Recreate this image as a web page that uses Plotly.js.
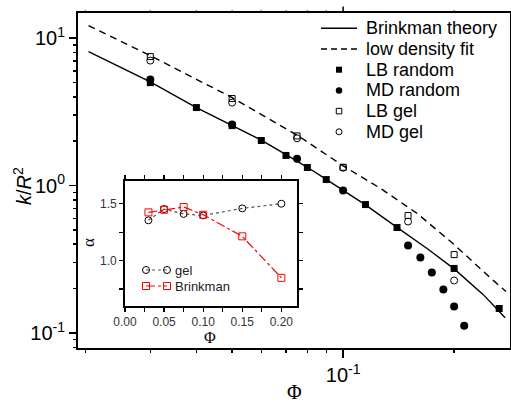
<!DOCTYPE html>
<html><head><meta charset="utf-8">
<script src="https://cdn.plot.ly/plotly-3.0.1.min.js"></script>
<style>html,body{margin:0;padding:0;background:#fff}#chart{width:511px;height:405px}</style>
</head><body><div id="chart"></div>
<script>
// ---- data ----
const brinkPhi = [0.0204, 0.03, 0.04, 0.05, 0.06, 0.07, 0.08, 0.09, 0.1, 0.115, 0.14, 0.17, 0.2, 0.24, 0.275];
const brinkK   = [8.10, 5.05, 3.38, 2.57, 2.03, 1.62, 1.33, 1.10, 0.93, 0.74, 0.52, 0.37, 0.272, 0.182, 0.127];
const lowPhi = [0.0204, 0.03, 0.05, 0.075, 0.1, 0.126, 0.159, 0.19, 0.2, 0.25, 0.2765];
const lowK   = [12.15, 7.6, 3.95, 2.2, 1.36, 0.96, 0.645, 0.44, 0.398, 0.238, 0.191];
const lbRandPhi = [0.03, 0.04, 0.05, 0.06, 0.07, 0.08, 0.09, 0.115, 0.14, 0.2, 0.265];
const lbRandK   = [4.99, 3.38, 2.55, 2.02, 1.60, 1.325, 1.098, 0.743, 0.519, 0.274, 0.1466];
const mdRandPhi = [0.03, 0.05, 0.075, 0.1, 0.15, 0.162, 0.174, 0.187, 0.2, 0.213];
const mdRandK   = [5.23, 2.59, 1.52, 0.925, 0.392, 0.325, 0.257, 0.197, 0.151, 0.112];
const gelPhi = [0.03, 0.05, 0.075, 0.1, 0.15, 0.2];
const lbGelK = [7.49, 3.89, 2.17, 1.33, 0.626, 0.340];
const mdGelK = [7.04, 3.65, 2.09, 1.32, 0.570, 0.227];
// inset
const alphaPhi   = [0.03, 0.05, 0.075, 0.1, 0.15, 0.2];
const gelAlpha   = [1.354, 1.453, 1.41, 1.397, 1.459, 1.50];
const brinkAlpha = [1.424, 1.447, 1.471, 1.403, 1.213, 0.848];
// ticks / labels
const xMajor = [0.1], xMajorText = ['10<sup>-1</sup>'];
const xMinor = [0.02,0.03,0.04,0.05,0.06,0.07,0.08,0.09,0.2];
const yMajor = [0.1, 1, 10], yMajorText = ['10<sup>-1</sup>','10<sup>0</sup>','10<sup>1</sup>'];
const yMinor = [0.08,0.09,0.2,0.3,0.4,0.5,0.6,0.7,0.8,0.9,2,3,4,5,6,7,8,9];
const legendLabels = ['Brinkman theory','low density fit','LB random','MD random','LB gel','MD gel'];
const insetLabels = ['gel','Brinkman'];

// ---- layout geometry (pixels) ----
const L=78, R=510, T=13, B=348;
const px = x => (x-L)/(R-L);
const py = y => (B-y)/(B-T);
const SANS = 'Liberation Sans, Arial, sans-serif';
const SERIF = 'Liberation Serif, Times New Roman, serif';
const XR = [Math.log10(0.0191), Math.log10(0.2835)];
const YR = [Math.log10(0.0791), Math.log10(14.8)];

const traces = [];
traces.push({x:brinkPhi, y:brinkK, mode:'lines', line:{color:'#000', width:1.4}, showlegend:false});
traces.push({x:lowPhi, y:lowK, mode:'lines', line:{color:'#000', width:1.4, dash:'7px,5px'}, showlegend:false});
const mk = [
  {symbol:'square', size:7, color:'#000'},
  {symbol:'circle', size:8, color:'#000'},
  {symbol:'square-open', size:6, color:'#000', line:{width:1, color:'#000'}},
  {symbol:'circle-open', size:7, color:'#000', line:{width:1, color:'#000'}}
];
traces.push({x:lbRandPhi, y:lbRandK, mode:'markers', marker:mk[0], showlegend:false});
traces.push({x:mdRandPhi, y:mdRandK, mode:'markers', marker:mk[1], showlegend:false});
traces.push({x:gelPhi, y:lbGelK, mode:'markers', marker:mk[2], showlegend:false});
traces.push({x:gelPhi, y:mdGelK, mode:'markers', marker:mk[3], showlegend:false});

// inset traces
traces.push({x:alphaPhi, y:gelAlpha, xaxis:'x2', yaxis:'y2', mode:'lines+markers',
  line:{color:'#555', width:1.2, dash:'dot'}, marker:{symbol:'circle-open', size:7, color:'#000', line:{width:1}}, showlegend:false});
traces.push({x:alphaPhi, y:brinkAlpha, xaxis:'x2', yaxis:'y2', mode:'lines+markers',
  line:{color:'#ff0000', width:1.2, dash:'dashdot'}, marker:{symbol:'square-open', size:7, color:'#ff0000', line:{width:1}}, showlegend:false});

// ---- hand-made legends (on an invisible overlay subplot) ----
const annotations = [];
const rowY = i => 28.3 + 20.7*i;
const lineStyles = [{color:'#000', width:1.4}, {color:'#000', width:1.4, dash:'6px,4px'}];
for (let i=0;i<2;i++){
  traces.push({x:[px(321),px(357)], y:[py(rowY(i)),py(rowY(i))], xaxis:'x3', yaxis:'y3', mode:'lines', line:lineStyles[i], showlegend:false, cliponaxis:false});
}
const legMk = [
  {symbol:'square', size:6, color:'#000'},
  {symbol:'circle', size:6.5, color:'#000'},
  {symbol:'square-open', size:5.5, color:'#000', line:{width:1}},
  {symbol:'circle-open', size:6, color:'#000', line:{width:1}}
];
for (let i=2;i<6;i++){
  traces.push({x:[px(339)], y:[py(rowY(i))], xaxis:'x3', yaxis:'y3', mode:'markers', marker:legMk[i-2], showlegend:false, cliponaxis:false});
}
legendLabels.forEach((t,i)=>annotations.push({text:t, xref:'paper', yref:'paper', x:px(364), y:py(rowY(i)), xanchor:'left', yanchor:'middle', showarrow:false, font:{family:SANS, size:18, color:'#000'}}));

const inRowY = i => 270 + 16*i;
traces.push({x:[px(146),px(167)], y:[py(inRowY(0)),py(inRowY(0))], xaxis:'x3', yaxis:'y3', mode:'lines+markers',
  line:{color:'#555', width:1.2, dash:'dot'}, marker:{symbol:'circle-open', size:7, color:'#000', line:{width:1}}, showlegend:false, cliponaxis:false});
traces.push({x:[px(146),px(167)], y:[py(inRowY(1)),py(inRowY(1))], xaxis:'x3', yaxis:'y3', mode:'lines+markers',
  line:{color:'#ff0000', width:1.2, dash:'dashdot'}, marker:{symbol:'square-open', size:7, color:'#ff0000', line:{width:1}}, showlegend:false, cliponaxis:false});
insetLabels.forEach((t,i)=>annotations.push({text:t, xref:'paper', yref:'paper', x:px(173), y:py(inRowY(i)), xanchor:'left', yanchor:'middle', showarrow:false, font:{family:SANS, size:13, color:'#222'}}));

// axis titles
const ttl = (text, x, y, size, fam, ang) => annotations.push({text:text, xref:'paper', yref:'paper', x:px(x), y:py(y), xanchor:'center', yanchor:'middle', textangle:ang||0, showarrow:false, font:{family:fam, size:size, color:'#000'}});
ttl('<i>k</i>/<i>R</i><sup>2</sup>', 22, 186, 20, SANS, -90);
ttl('Φ', 294, 392, 20, SERIF);
ttl('α', 88, 243, 17, SERIF, -90);
ttl('Φ', 210, 337, 16, SERIF);

// top-edge tick marks of the main plot, placed at the tick values via the x-axis log range
const xFrac = v => (Math.log10(v) - XR[0]) / (XR[1] - XR[0]);
const topTicks = (vals, len) => {
  traces.push({x:vals.map(xFrac), y:vals.map(()=>py(T - len/2)), xaxis:'x3', yaxis:'y3',
    mode:'markers', marker:{symbol:'line-ns', size:len, line:{color:'#000', width:1.5}}, showlegend:false, cliponaxis:false, hoverinfo:'skip'});
  vals.forEach(v => annotations.push({text:'', xref:'paper', yref:'paper', x:xFrac(v), y:1, ax:0, ay:-len,
    showarrow:true, arrowhead:0, arrowwidth:1.5, arrowcolor:'#000', standoff:0, startstandoff:0}));
};
topTicks(xMinor, 4);
topTicks(xMajor, 8);

const axCommon = {showgrid:false, zeroline:false, showline:true, linecolor:'#000', linewidth:2, ticks:'outside', tickcolor:'#000', mirror:'ticks'};
const layout = {
  width:511, height:405,
  margin:{l:L, r:511-R, t:T, b:405-B},
  paper_bgcolor:'#fff', plot_bgcolor:'rgba(0,0,0,0)',
  showlegend:false,
  xaxis: Object.assign({}, axCommon, {type:'log', range:XR, mirror:true,
    tickmode:'array', tickvals:xMajor, ticktext:xMajorText, ticklen:8, tickwidth:1.5,
    tickfont:{family:SANS, size:20, color:'#000'}}),
  yaxis: Object.assign({}, axCommon, {type:'log', range:YR, mirror:true,
    tickmode:'array', tickvals:yMajor, ticktext:yMajorText, ticklen:7, tickwidth:1.5,
    tickfont:{family:SANS, size:20, color:'#000'}}),
  xaxis4: {overlaying:'x', anchor:'y', side:'bottom', type:'log', range:XR, showgrid:false, zeroline:false, showline:false,
    tickmode:'array', tickvals:xMinor, showticklabels:false, ticks:'outside', ticklen:4, tickwidth:1.5, tickcolor:'#000'},
  yaxis4: {overlaying:'y', anchor:'x', side:'left', type:'log', range:YR, showgrid:false, zeroline:false, showline:false,
    tickmode:'array', tickvals:yMinor, showticklabels:false, ticks:'outside', ticklen:4, tickwidth:1.5, tickcolor:'#000'},
  xaxis2: Object.assign({}, axCommon, {domain:[px(125), px(297)], anchor:'y2', range:[0, 0.22],
    tickmode:'linear', tick0:0, dtick:0.05, tickformat:'.2f', ticklen:4, tickwidth:1.2, linewidth:1.8,
    tickfont:{family:SANS, size:12, color:'#333'},
    minor:{dtick:0.025, ticks:'outside', ticklen:4, tickwidth:1.2, tickcolor:'#000'}}),
  yaxis2: Object.assign({}, axCommon, {domain:[py(306), py(181)], anchor:'x2', range:[0.6, 1.7],
    tickmode:'linear', tick0:0, dtick:0.5, tickformat:'.1f', ticklen:4, tickwidth:1.2, linewidth:1.8,
    tickfont:{family:SANS, size:12, color:'#333'},
    minor:{dtick:0.25, tick0:0, ticks:'outside', ticklen:4, tickwidth:1.2, tickcolor:'#000'}}),
  xaxis3: {domain:[0,1], range:[0,1], anchor:'y3', visible:false, fixedrange:true},
  yaxis3: {domain:[0,1], range:[0,1], anchor:'x3', visible:false, fixedrange:true},
  annotations: annotations
};
// invisible trace so the minor-tick overlay axes are drawn
traces.push({x:[0.05], y:[1], xaxis:'x4', yaxis:'y4', mode:'markers', marker:{opacity:0}, showlegend:false, hoverinfo:'skip'});
Plotly.newPlot('chart', traces, layout, {staticPlot:true, displayModeBar:false});
</script></body></html>
